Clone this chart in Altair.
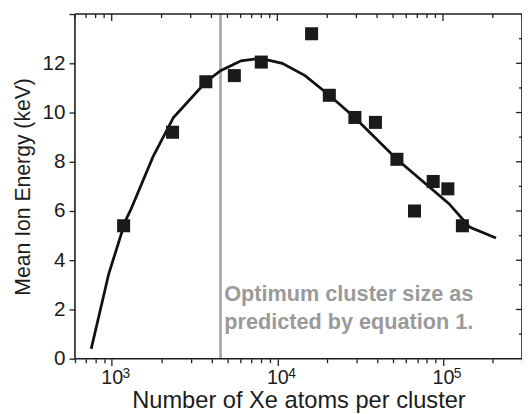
import altair as alt
import pandas as pd

# Measured data points (cluster size, mean ion energy keV)
pts_x = [1180, 2330, 3700, 5500, 8000, 16100, 20600, 29400, 39100, 52700, 67300, 87300, 107000, 131000]
pts_y = [5.4, 9.2, 11.25, 11.5, 12.05, 13.2, 10.7, 9.8, 9.6, 8.1, 6.0, 7.2, 6.9, 5.4]

# Model curve
crv_x = [752, 960, 1210, 1313, 1774, 2360, 3700, 4540, 6040, 7930, 10700, 14700, 20600, 29300, 52700, 108700, 144500, 209000]
crv_y = [0.4, 3.45, 5.6, 6.1, 8.2, 9.8, 11.24, 11.7, 12.1, 12.2, 12.0, 11.5, 10.7, 9.8, 8.1, 6.3, 5.35, 4.9]

optimum_x = [4540]
note_lines = ["Optimum cluster size as", "predicted by equation 1."]
note_pos = [4780, 2.35]

x_ticks = [600, 700, 800, 900, 1000, 2000, 3000, 4000, 5000, 6000, 7000, 8000, 9000,
           10000, 20000, 30000, 40000, 50000, 60000, 70000, 80000, 90000,
           100000, 200000, 300000]
x_major = [1000, 10000, 100000]
x_exponents = ["3", "4", "5"]
y_ticks = list(range(0, 15))

XT = "Number of Xe atoms per cluster"
YT = "Mean Ion Energy (keV)"

xs = alt.Scale(type="log", domain=[600, 300000], nice=False)
ys = alt.Scale(domain=[0, 14], nice=False, zero=False)

W, H = 454, 350
FONT = "Liberation Sans"
INK = "#1c1c1c"

major_test = "datum.value == 1000 || datum.value == 10000 || datum.value == 100000"

x_axis = alt.Axis(
    values=x_ticks,
    labelExpr="(" + major_test + ") ? '10' : ''",
    tickSize={"condition": {"test": major_test, "value": 7}, "value": 4},
    labelFont=FONT, labelFontSize=20, labelPadding=2, labelColor=INK,
    titleFont=FONT, titleFontSize=24, titleFontWeight="normal", titleColor=INK, titlePadding=2,
    domain=False, tickColor=INK, tickWidth=1.3,
    grid=False, labelFlush=False, labelOverlap=False,
)
y_axis = alt.Axis(
    values=y_ticks,
    labelExpr="(datum.value % 2 == 0 && datum.value < 14) ? datum.label : ''",
    tickSize={"condition": {"test": "datum.value % 2 == 0", "value": 6}, "value": 3},
    labelFont=FONT, labelFontSize=21, labelPadding=4, labelColor=INK,
    titleFont=FONT, titleFontSize=21.5, titleFontWeight="normal", titleColor=INK, titlePadding=8,
    domain=False, tickColor=INK, tickWidth=1.3,
    grid=False, labelOverlap=False,
)

curve = pd.DataFrame({"x": crv_x, "y": crv_y})
pts = pd.DataFrame({"x": pts_x, "y": pts_y})

line = alt.Chart(curve).mark_line(color="#111", strokeWidth=2.8).encode(
    x=alt.X("x:Q", scale=xs, axis=x_axis, title=XT),
    y=alt.Y("y:Q", scale=ys, axis=y_axis, title=YT),
)

squares = alt.Chart(pts).mark_square(size=175, color="#1a1a1a", opacity=1).encode(
    x=alt.X("x:Q", scale=xs, title=XT),
    y=alt.Y("y:Q", scale=ys, title=YT),
)

vline = alt.Chart(pd.DataFrame({"x": optimum_x})).mark_rule(color="#a6a6a6", strokeWidth=2.7).encode(
    x=alt.X("x:Q", scale=xs, title=XT),
)

note = alt.Chart(pd.DataFrame({"x": [note_pos[0]], "y": [note_pos[1]], "t": [note_lines]})).mark_text(
    align="left", baseline="alphabetic", font=FONT, fontSize=22, fontWeight="bold",
    color="#9a9a9a", lineHeight=29,
).encode(
    x=alt.X("x:Q", scale=xs, title=XT),
    y=alt.Y("y:Q", scale=ys, title=YT),
    text="t",
)

# exponents of the 10^n tick labels
exps = alt.Chart(pd.DataFrame({"x": x_major, "e": x_exponents})).mark_text(
    align="left", baseline="top", font=FONT, fontSize=14, color=INK, dx=11,
).encode(
    x=alt.X("x:Q", scale=xs, title=XT), y=alt.value(H + 9), text="e",
)

# plot frame drawn as four rules
one = pd.DataFrame({"k": [0]})
fr = dict(color=INK, strokeWidth=1.6)
frame_l = alt.Chart(one).mark_rule(**fr).encode(x=alt.value(0), y=alt.value(0), y2=alt.value(H))
frame_r = alt.Chart(one).mark_rule(**fr).encode(x=alt.value(W), y=alt.value(0), y2=alt.value(H))
frame_t = alt.Chart(one).mark_rule(**fr).encode(x=alt.value(0), x2=alt.value(W), y=alt.value(0))
frame_b = alt.Chart(one).mark_rule(**fr).encode(x=alt.value(0), x2=alt.value(W), y=alt.value(H))

# inner ticks on the top and right frame
top_df = pd.DataFrame({"x": x_ticks, "major": [v in x_major for v in x_ticks]})
top_major = alt.Chart(top_df[top_df.major]).mark_rule(color=INK, strokeWidth=1.3).encode(
    x=alt.X("x:Q", scale=xs, title=XT), y=alt.value(0), y2=alt.value(7))
top_minor = alt.Chart(top_df[~top_df.major]).mark_rule(color=INK, strokeWidth=1.3).encode(
    x=alt.X("x:Q", scale=xs, title=XT), y=alt.value(0), y2=alt.value(4))

right_df = pd.DataFrame({"y": y_ticks[1:-1]})
right_major = alt.Chart(right_df[right_df.y % 2 == 0]).mark_rule(color=INK, strokeWidth=1.3).encode(
    y=alt.Y("y:Q", scale=ys, title=YT), x=alt.value(W - 6), x2=alt.value(W))
right_minor = alt.Chart(right_df[right_df.y % 2 == 1]).mark_rule(color=INK, strokeWidth=1.3).encode(
    y=alt.Y("y:Q", scale=ys, title=YT), x=alt.value(W - 3), x2=alt.value(W))

chart = alt.layer(
    vline, note, frame_l, frame_r, frame_t, frame_b,
    top_major, top_minor, right_major, right_minor, exps, line, squares
).properties(
    width=W, height=H,
    autosize=alt.AutoSizeParams(type="none"),
    padding={"left": 68, "top": 3, "right": 0, "bottom": 53},
).configure(
    font=FONT, background="white",
    view=alt.ViewConfig(strokeWidth=0),
)

chart.save("out.html", embed_options={"renderer": "svg", "actions": False})
